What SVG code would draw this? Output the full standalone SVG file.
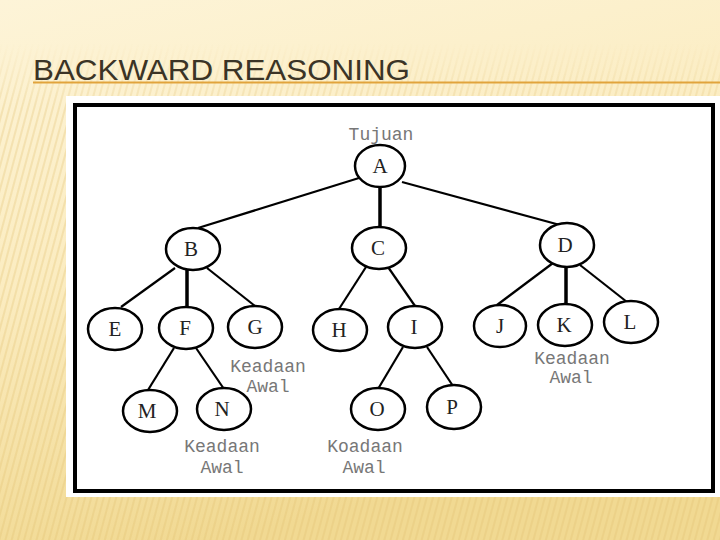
<svg xmlns="http://www.w3.org/2000/svg" width="720" height="540" viewBox="0 0 720 540">
<defs>
<linearGradient id="bg" x1="0" y1="0" x2="0.3" y2="1">
<stop offset="0" stop-color="#fdf4d8"/>
<stop offset="0.5" stop-color="#fbecc0"/>
<stop offset="1" stop-color="#f1d992"/>
</linearGradient>
<linearGradient id="fade" x1="0" y1="0" x2="0" y2="1">
<stop offset="0" stop-color="#fff" stop-opacity="0"/>
<stop offset="0.08" stop-color="#fff" stop-opacity="0"/>
<stop offset="0.2" stop-color="#fff" stop-opacity="1"/>
<stop offset="1" stop-color="#fff" stop-opacity="1"/>
</linearGradient>
<mask id="m"><rect width="720" height="540" fill="url(#fade)"/></mask>
<pattern id="stripes" width="6" height="40" patternUnits="userSpaceOnUse" patternTransform="rotate(15)">
<rect x="0" y="0" width="2" height="40" fill="#e2c070" opacity="0.3"/>
</pattern>
<style>
.node ellipse{fill:#fff;stroke:#000;stroke-width:2.5}
.node text{font-family:"Liberation Serif","Times New Roman",serif;font-size:21px;fill:#222;text-anchor:middle}
.edges line{stroke:#000;stroke-width:2.2}
.edges line.thick{stroke-width:3.5}
.lbl{font-family:"Liberation Mono","Courier New",monospace;font-size:18px;fill:#777;text-anchor:middle}
</style>
</defs>
<rect width="720" height="540" fill="url(#bg)"/>
<rect width="720" height="540" fill="url(#stripes)" mask="url(#m)"/>
<text x="33" y="80" font-family="Liberation Sans, Arial, sans-serif" font-size="30" fill="#3b3426" textLength="377" lengthAdjust="spacingAndGlyphs">BACKWARD REASONING</text>
<line x1="33" y1="82.5" x2="720" y2="82.5" stroke="#e1a43c" stroke-width="2"/>
<rect x="66" y="96" width="654" height="401" fill="#fff"/>
<rect x="75" y="105" width="638" height="386" fill="none" stroke="#000" stroke-width="4"/>
<g class="edges">
<line x1="359" y1="178" x2="198" y2="228"/>
<line class="thick" x1="380" y1="186" x2="380" y2="228"/>
<line x1="402" y1="182" x2="560" y2="225"/>
<line x1="175" y1="268" x2="121" y2="307"/>
<line class="thick" x1="187" y1="270" x2="187" y2="308"/>
<line x1="207" y1="268" x2="255" y2="306"/>
<line x1="366" y1="267" x2="339" y2="309"/>
<line x1="388" y1="267" x2="415" y2="306"/>
<line x1="553" y1="263" x2="497" y2="305"/>
<line class="thick" x1="566" y1="266" x2="566" y2="304"/>
<line x1="580" y1="265" x2="627" y2="302"/>
<line x1="174" y1="348" x2="148" y2="390"/>
<line x1="196" y1="348" x2="224" y2="389"/>
<line x1="403" y1="347" x2="378" y2="389"/>
<line x1="427" y1="347" x2="453" y2="386"/>
</g>
<g id="A" class="node"><ellipse cx="380" cy="166" rx="25" ry="21"/><text x="380" y="173">A</text></g>
<g id="B" class="node"><ellipse cx="193" cy="249" rx="27" ry="21"/><text x="191" y="256">B</text></g>
<g id="C" class="node"><ellipse cx="379" cy="248" rx="27" ry="21"/><text x="378" y="255">C</text></g>
<g id="D" class="node"><ellipse cx="567" cy="245" rx="27" ry="22"/><text x="565" y="252">D</text></g>
<g id="E" class="node"><ellipse cx="115" cy="329" rx="27" ry="21"/><text x="115" y="336">E</text></g>
<g id="F" class="node"><ellipse cx="186" cy="328" rx="27" ry="21"/><text x="185" y="335">F</text></g>
<g id="G" class="node"><ellipse cx="255" cy="327" rx="27" ry="21"/><text x="255" y="334">G</text></g>
<g id="H" class="node"><ellipse cx="340" cy="330" rx="27" ry="21"/><text x="339" y="337">H</text></g>
<g id="I" class="node"><ellipse cx="415" cy="327" rx="27" ry="21"/><text x="414" y="334">I</text></g>
<g id="J" class="node"><ellipse cx="500" cy="326" rx="26" ry="21"/><text x="500" y="333">J</text></g>
<g id="K" class="node"><ellipse cx="565" cy="325" rx="27" ry="21"/><text x="564" y="332">K</text></g>
<g id="L" class="node"><ellipse cx="631" cy="322" rx="27" ry="21"/><text x="630" y="329">L</text></g>
<g id="M" class="node"><ellipse cx="150" cy="411" rx="27" ry="21"/><text x="147" y="418">M</text></g>
<g id="N" class="node"><ellipse cx="224" cy="409" rx="27" ry="21"/><text x="222" y="416">N</text></g>
<g id="O" class="node"><ellipse cx="378" cy="409" rx="27" ry="21"/><text x="377" y="416">O</text></g>
<g id="P" class="node"><ellipse cx="454" cy="407" rx="27" ry="22"/><text x="452" y="414">P</text></g>
<g id="labels">
<text class="lbl" x="381" y="140">Tujuan</text>
<text class="lbl" x="268" y="372">Keadaan</text>
<text class="lbl" x="268" y="392">Awal</text>
<text class="lbl" x="222" y="452">Keadaan</text>
<text class="lbl" x="222" y="473">Awal</text>
<text class="lbl" x="365" y="452">Koadaan</text>
<text class="lbl" x="364" y="473">Awal</text>
<text class="lbl" x="572" y="364">Keadaan</text>
<text class="lbl" x="571" y="383">Awal</text>
</g>
</svg>
